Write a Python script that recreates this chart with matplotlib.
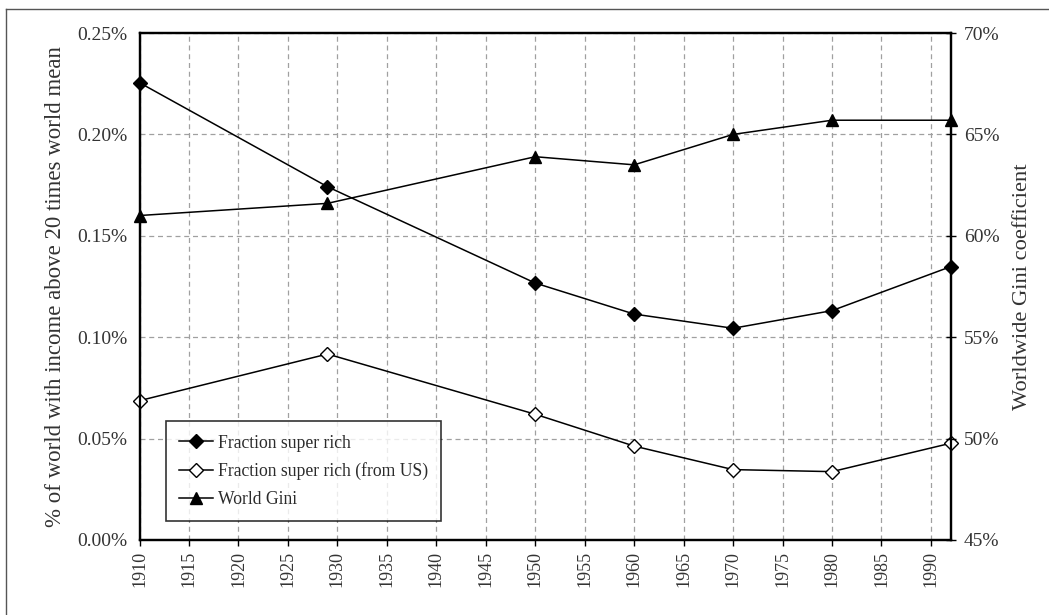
import matplotlib
matplotlib.use("Agg")
import matplotlib.pyplot as plt
from matplotlib.lines import Line2D
from matplotlib.ticker import FuncFormatter, MultipleLocator

years = [1910, 1929, 1950, 1960, 1970, 1980, 1992]
frac_super_rich = [0.2255, 0.1742, 0.1267, 0.1114, 0.1044, 0.1131, 0.1348]
frac_super_rich_us = [0.0687, 0.0917, 0.0620, 0.0463, 0.0347, 0.0337, 0.0477]
world_gini = [61.0, 61.6, 63.9, 63.5, 65.0, 65.7, 65.7]

xticks = list(range(1910, 1991, 5))

plt.rcParams['font.family'] = ['Liberation Serif', 'DejaVu Serif']
txt = '#333333'

fig = plt.figure(figsize=(10.49, 6.15), dpi=100)
ax = fig.add_axes([0.133, 0.122, 0.7733, 0.8243])
ax2 = ax.twinx()

# figure border (left and top only visible)
fig.add_artist(Line2D([6/1049, 6/1049], [0, 1 - 9/615], transform=fig.transFigure,
                      color='#555555', lw=1.0))
fig.add_artist(Line2D([6/1049, 1], [1 - 9/615, 1 - 9/615], transform=fig.transFigure,
                      color='#555555', lw=1.0))

l1, = ax.plot(years, frac_super_rich, color='black', lw=1.1, marker='D', ms=7,
              mfc='black', mec='black', label='Fraction super rich', zorder=5, clip_on=False)
l2, = ax.plot(years, frac_super_rich_us, color='black', lw=1.1, marker='D', ms=7,
              mfc='white', mec='black', mew=1.0, label='Fraction super rich (from US)',
              zorder=5, clip_on=False)
l3, = ax2.plot(years, world_gini, color='black', lw=1.1, marker='^', ms=8.5,
               mfc='black', mec='black', label='World Gini', zorder=5, clip_on=False)

ax.set_xlim(1910, 1992)
ax.set_ylim(0, 0.25)
ax2.set_ylim(45, 70)

ax.set_xticks(xticks)
ax.set_xticklabels([str(y) for y in xticks], rotation=90, color=txt, fontsize=13)
ax.yaxis.set_major_locator(MultipleLocator(0.05))
ax.yaxis.set_major_formatter(FuncFormatter(lambda v, p: f"{v:.2f}%"))
ax2.yaxis.set_major_locator(MultipleLocator(5))
ax2.yaxis.set_major_formatter(FuncFormatter(lambda v, p: f"{v:.0f}%"))

ax.tick_params(axis='x', direction='out', length=4, width=1, pad=4, colors='black', labelcolor=txt)
ax.tick_params(axis='y', length=0, pad=9, labelsize=14, labelcolor=txt)
ax2.tick_params(axis='y', direction='inout', length=7, width=1, pad=6, labelsize=14, labelcolor=txt)

ax.grid(True, color='#a0a0a0', lw=0.9, linestyle=(0, (4, 3)))
ax.set_axisbelow(True)

for sp in ax.spines.values():
    sp.set_linewidth(1.6)
    sp.set_color('black')
for sp in ax2.spines.values():
    sp.set_linewidth(1.6)
    sp.set_color('black')

ax.set_ylabel('% of world with income above 20 times world mean', fontsize=16.5,
              color=txt, labelpad=8)
ax2.set_ylabel('Worldwide Gini coefficient', fontsize=16.2, color=txt, labelpad=10)

leg = ax.legend(handles=[l1, l2, l3], loc='lower left', bbox_to_anchor=(0.0327, 0.0375),
                borderaxespad=0, frameon=True, fancybox=False, edgecolor='black',
                fontsize=12.7, handlelength=1.9, handletextpad=0.3, labelspacing=0.6,
                borderpad=0.75)
leg.get_frame().set_linewidth(1.2)
for t in leg.get_texts():
    t.set_color('#2b2b2b')
ax2.set_zorder(ax.get_zorder() + 1)
ax.patch.set_visible(False)
leg.set_zorder(10)

fig.savefig('out.png', dpi=100)
